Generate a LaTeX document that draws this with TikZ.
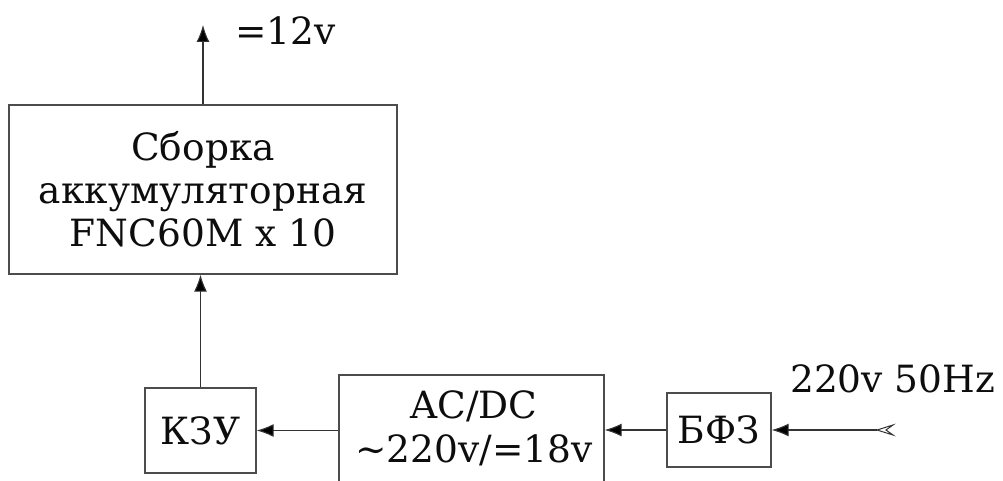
\documentclass[tikz,border=0pt]{standalone}
\usepackage{fontspec}
\setmainfont{DejaVu Serif}
\usetikzlibrary{arrows.meta}
\begin{document}
\begin{tikzpicture}[x=1pt,y=-1pt]
\tikzset{
  blk/.style={draw=black!70, line width=1.3pt, inner sep=0pt, font=\fontsize{37.5}{43}\selectfont, align=center, text=black!95},
  lbl/.style={inner sep=0pt, font=\fontsize{37.5}{44}\selectfont, text=black!95},
  conn/.style={draw=black!80, line width=1.1pt, -{Latex[length=17pt,width=13pt,fill=black]}},
  plugsym/.style={draw=black!80, line width=1pt, line join=miter},
}
\useasboundingbox[fill=white] (0,0) rectangle (1003,481);
\clip (0,0) rectangle (1003,481);

\node[blk, minimum width=388pt, minimum height=169pt] (bat) at (203,189.5) {Сборка\\аккумуляторная\\FNC60M x 10};
\node[blk, minimum width=111pt, minimum height=85pt] (kzu) at (200.5,430.5) {КЗУ};
\node[blk, minimum width=104pt, minimum height=74pt] (bfz) at (719,430) {БФЗ};
\node[blk, minimum width=265pt, minimum height=140pt] (acdc) at (471.5,445) {};
\node[lbl, align=center] (acdctxt) at (474,428) {AC/DC\\\textasciitilde220v/=18v};
\node[lbl, anchor=base west] (v12) at (235,45) {=12v};
\node[lbl, anchor=base west] (mains) at (790,392) {220v 50Hz};

\coordinate (out) at (203,25);
\coordinate (plug) at (877,430);

\draw[conn] (bat.north) -- (out);
\draw[conn] (kzu.north) -- (kzu.north |- bat.south);
\draw[conn] (acdc.west |- kzu.east) -- (kzu.east);
\draw[conn] (bfz.west) -- (bfz.west -| acdc.east);
\draw[conn] (plug) -- (bfz.east);
\draw[plugsym] (plug) -- ++(16,-5) -- ++(-7,5) -- ++(7,5) -- cycle;
\end{tikzpicture}
\end{document}
